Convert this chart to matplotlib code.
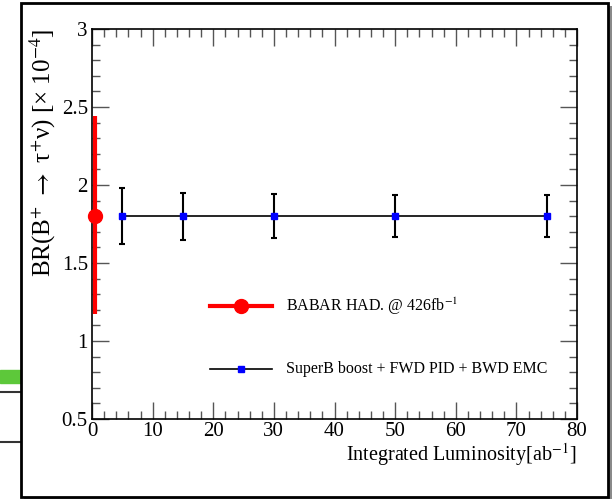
import matplotlib
matplotlib.use("Agg")
import matplotlib.pyplot as plt
from matplotlib.patches import Rectangle
from matplotlib.ticker import MultipleLocator

plt.rcParams["font.family"] = ["Liberation Serif", "DejaVu Serif"]
plt.rcParams["mathtext.fontset"] = "stix"

# BABAR hadronic tag measurement (426 fb^-1 = 0.426 ab^-1)
babar_lumi = [0.426]
babar_br = [1.8]
babar_err_lo = [0.63]
babar_err_hi = [0.64]

# SuperB projection
superb_lumi = [5, 15, 30, 50, 75]
superb_br = [1.8, 1.8, 1.8, 1.8, 1.8]
superb_err = [0.18, 0.15, 0.14, 0.135, 0.135]

W, H = 613, 499
fig = plt.figure(figsize=(W / 100, H / 100), dpi=100)

# screenshot leftovers at the far left
fig.patches.append(Rectangle((0, 1 - 383 / H), 21 / W, 13 / H, transform=fig.transFigure,
                             color="#5dc83a", zorder=-2))
for yy in (392, 442):
    fig.add_artist(plt.Line2D([0, 21 / W], [1 - yy / H] * 2, color="#333333", lw=1.5, zorder=-2))

# canvas frame with shadow
fig.patches.append(Rectangle((24 / W, 1 - 500 / H), 588 / W, 494 / H, transform=fig.transFigure,
                             facecolor="#8a8a8a", edgecolor="none", zorder=-2))
fig.patches.append(Rectangle((21 / W, 1 - 497 / H), 587 / W, 494 / H, transform=fig.transFigure,
                             facecolor="white", edgecolor="black", lw=2, zorder=-1))

ax = fig.add_axes([92 / W, 1 - 419 / H, (577 - 92) / W, (419 - 29) / H])
ax.set_zorder(1)
ax.set_xlim(0, 80)
ax.set_ylim(0.5, 3)

ax.errorbar(babar_lumi, babar_br, yerr=[babar_err_lo, babar_err_hi], fmt="o", color="red",
            ms=10, elinewidth=3, capsize=0, zorder=3, clip_on=False)
ax.plot(superb_lumi, superb_br, color="black", lw=1.2, zorder=2)
ax.errorbar(superb_lumi, superb_br, yerr=superb_err, fmt="none", ecolor="black",
            elinewidth=1.5, capsize=2, capthick=1.5, zorder=2)
ax.plot(superb_lumi, superb_br, "s", color="blue", ms=5, zorder=4)

ax.xaxis.set_major_locator(MultipleLocator(10))
ax.xaxis.set_minor_locator(MultipleLocator(2))
ax.yaxis.set_major_locator(MultipleLocator(0.5))
ax.yaxis.set_minor_locator(MultipleLocator(0.1))
ax.tick_params(which="both", direction="in", top=True, right=True, color="#555555",
               labelsize=15, width=1)
ax.tick_params(which="major", length=12, pad=2)
ax.tick_params(which="minor", length=6)
ax.tick_params(axis="y", pad=3)
ax.set_xticks(range(0, 81, 10))
ax.set_xticklabels([str(v) for v in range(0, 81, 10)])
ax.set_yticks([0.5, 1, 1.5, 2, 2.5, 3])
ax.set_yticklabels(["0.5", "1", "1.5", "2", "2.5", "3"])
for s in ax.spines.values():
    s.set_linewidth(1.2)

fig.text(43 / W, 1 - 153 / H, r"BR(B$^{+}$ $\rightarrow$ τ$^{+}$ν) [× 10$^{\mathrm{-4}}$]",
         rotation=90, ha="center", va="center", fontsize=18)
fig.text(576 / W, 1 - 455 / H, r"Integrated Luminosity[ab$^{\mathrm{-1}}$]", ha="right",
         va="center", fontsize=14.5)

# legend drawn by hand in axes-fraction space
lx0, lx1, tx = (210 - 92) / 485, (272 - 92) / 485, (286 - 92) / 485
y1, y2 = (419 - 306) / 390, (419 - 369) / 390
ax.plot([lx0, lx1], [y1, y1], color="red", lw=3, transform=ax.transAxes)
ax.plot([(lx0 + lx1) / 2], [y1], "o", color="red", ms=10, transform=ax.transAxes)
ax.text(tx, y1, r"BABAR HAD. @ 426fb$^{\mathrm{-1}}$", transform=ax.transAxes, va="center",
        fontsize=11.5)
ax.plot([lx0, lx1], [y2, y2], color="black", lw=1.2, transform=ax.transAxes)
ax.plot([(lx0 + lx1) / 2], [y2], "s", color="blue", ms=5, transform=ax.transAxes)
ax.text(tx, y2, "SuperB boost + FWD PID + BWD EMC", transform=ax.transAxes, va="center",
        fontsize=11.5)

fig.savefig("out.png", dpi=100)
